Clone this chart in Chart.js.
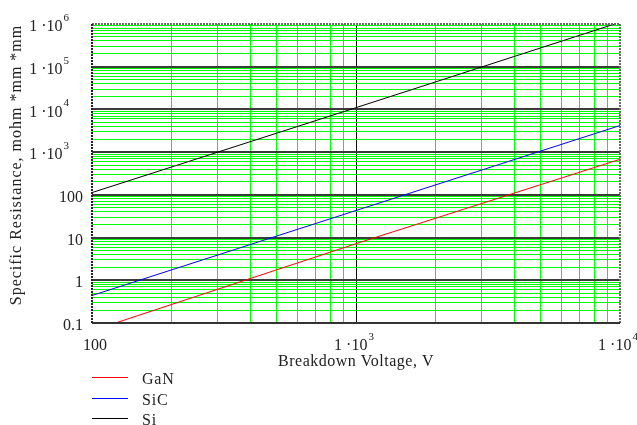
<!DOCTYPE html>
<html>
<head>
<meta charset="utf-8">
<script src="https://cdn.jsdelivr.net/npm/chart.js@4"></script>
<style>
html,body{margin:0;padding:0;background:#fff;}
canvas{display:block;}
</style>
</head>
<body>
<canvas id="c" width="637" height="425"></canvas>
<script>
// ---- data ----
const voltages = [100, 1000, 10000];
const ganValues = [0.066, 7.2, 680];
const sicValues = [0.44, 43, 4200];
const siValues  = [113, 11000, 1100000];
const seriesNames = ['GaN', 'SiC', 'Si'];
const seriesColors = ['#ff0000', '#0000ff', '#000000'];

const yDecades = [0.1, 1, 10, 100, 1000, 10000, 100000, 1000000];
const yTickLabels = ['0.1', '1', '10', '100', '1 \u00b710^3', '1 \u00b710^4', '1 \u00b710^5', '1 \u00b710^6'];
const xDecades = [100, 1000, 10000];
const xTickLabels = ['100', '1 \u00b710^3', '1 \u00b710^4'];
const minorSteps = [2, 3, 4, 5, 6, 7, 8, 9];

const xTitle = 'Breakdown Voltage, V';
const yTitle = 'Specific Resistance, mohm *mm *mm';

function withMinors(decades) {
  const out = [];
  decades.forEach((d, i) => {
    out.push(d);
    if (i < decades.length - 1) minorSteps.forEach(m => out.push(d * m));
  });
  return out;
}
function isDecade(v) {
  const l = Math.log10(v);
  return Math.abs(l - Math.round(l)) < 1e-9;
}
function pts(vals) { return voltages.map((v, i) => ({x: v, y: vals[i]})); }

const FONT = '"Liberation Serif", "Times New Roman", serif';

function drawLabel(ctx, text, x, y, align) {
  const parts = text.split('^');
  const base = parts[0], sup = parts[1] || '';
  ctx.font = '16px ' + FONT;
  const bw = ctx.measureText(base).width;
  ctx.font = '11px ' + FONT;
  const sw = sup ? ctx.measureText(sup).width + 1 : 0;
  const total = bw + sw;
  let left = x;
  if (align === 'center') left = x - total / 2;
  else if (align === 'right') left = x - total;
  ctx.textAlign = 'left';
  ctx.textBaseline = 'middle';
  ctx.font = '16px ' + FONT;
  ctx.fillText(base, left, y);
  if (sup) {
    ctx.font = '11px ' + FONT;
    ctx.fillText(sup, left + bw + 1, y - 9);
  }
}

const labelPlugin = {
  id: 'labels',
  afterDraw(chart) {
    const ctx = chart.ctx;
    const xs = chart.scales.x, ys = chart.scales.y, a = chart.chartArea;
    ctx.save();
    // frame
    ctx.lineWidth = 2;
    ctx.setLineDash([2, 1]);
    ctx.strokeStyle = '#6a6a6a';
    ctx.beginPath();
    ctx.moveTo(a.left, a.top); ctx.lineTo(a.right, a.top); ctx.lineTo(a.right, a.bottom);
    ctx.stroke();
    ctx.strokeStyle = '#222';
    ctx.beginPath();
    ctx.moveTo(a.left, a.top); ctx.lineTo(a.left, a.bottom);
    ctx.stroke();
    ctx.setLineDash([]);
    ctx.strokeStyle = '#333';
    ctx.beginPath();
    ctx.moveTo(a.left, a.bottom); ctx.lineTo(a.right, a.bottom);
    ctx.stroke();

    ctx.fillStyle = '#222';
    yDecades.forEach((v, i) => {
      const y = ys.getPixelForValue(v) + 3;
      const t = yTickLabels[i];
      drawLabel(ctx, t, t.indexOf('^') >= 0 ? 69 : 83, y, 'right');
    });
    xDecades.forEach((v, i) => {
      const x = xs.getPixelForValue(v);
      const t = xTickLabels[i];
      drawLabel(ctx, t, t.indexOf('^') >= 0 ? x - 2 : x + 3, 346, 'center');
    });
    ctx.font = '16px ' + FONT;
    ctx.textAlign = 'center';
    ctx.textBaseline = 'middle';
    try { ctx.letterSpacing = '0.5px'; } catch (e) {}
    ctx.fillText(xTitle, (a.left + a.right) / 2, 362);
    ctx.save();
    ctx.translate(17, 165);
    ctx.rotate(-Math.PI / 2);
    try { ctx.letterSpacing = '1px'; } catch (e) {}
    ctx.fillText(yTitle, 0, 0);
    ctx.restore();
    try { ctx.letterSpacing = '0.8px'; } catch (e) {}
    chart.data.datasets.forEach((ds, i) => {
      const y = 377 + i * 20.5;
      ctx.strokeStyle = ds.borderColor;
      ctx.lineWidth = 1;
      ctx.beginPath();
      ctx.moveTo(92, Math.round(y) + 0.5); ctx.lineTo(128, Math.round(y) + 0.5);
      ctx.stroke();
      ctx.fillStyle = '#222';
      ctx.textAlign = 'left';
      ctx.font = '16px ' + FONT;
      ctx.fillText(ds.label, 142, y + 3);
    });
    ctx.restore();
  }
};

new Chart(document.getElementById('c'), {
  type: 'line',
  data: {
    datasets: [
      {label: seriesNames[0], data: pts(ganValues), borderColor: seriesColors[0]},
      {label: seriesNames[1], data: pts(sicValues), borderColor: seriesColors[1]},
      {label: seriesNames[2], data: pts(siValues), borderColor: seriesColors[2]}
    ].map(d => Object.assign(d, {borderWidth: 1, pointRadius: 0, fill: false, tension: 0}))
  },
  options: {
    responsive: false,
    animation: false,
    devicePixelRatio: 1,
    layout: {padding: {top: 24, right: 17, left: 0, bottom: 0}},
    plugins: {legend: {display: false}, tooltip: {enabled: false}},
    scales: {
      x: {
        type: 'logarithmic',
        min: 100, max: 10000,
        afterBuildTicks: s => { s.ticks = withMinors(xDecades).map(v => ({value: v})); },
        afterFit: s => { s.height = 102; },
        ticks: {display: false, autoSkip: false},
        border: {display: false},
        grid: {
          drawTicks: false,
          color: c => {
            const v = c.tick && c.tick.value;
            if (v === 100 || v === 10000) return 'rgba(0,0,0,0)';
            return isDecade(v) ? '#111111' : '#00ff00';
          },
          lineWidth: 1
        }
      },
      y: {
        type: 'logarithmic',
        min: 0.1, max: 1000000,
        afterBuildTicks: s => { s.ticks = withMinors(yDecades).map(v => ({value: v})); },
        afterFit: s => { s.width = 92; },
        ticks: {display: false, autoSkip: false},
        border: {display: false},
        grid: {
          drawTicks: false,
          color: c => {
            const v = c.tick && c.tick.value;
            if (v === 0.1 || v === 1000000) return 'rgba(0,0,0,0)';
            return isDecade(v) ? '#3c3c3c' : '#00ff00';
          },
          lineWidth: c => (c.tick && isDecade(c.tick.value)) ? 2 : 1
        }
      }
    }
  },
  plugins: [labelPlugin]
});
</script>
</body>
</html>
